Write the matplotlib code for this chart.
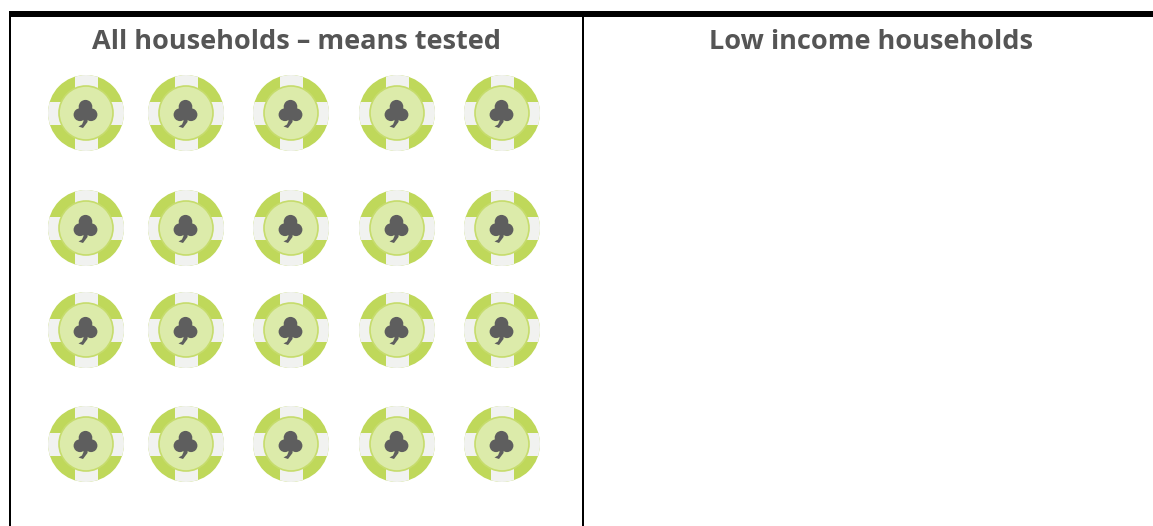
import matplotlib
matplotlib.use("Agg")
import matplotlib.pyplot as plt
from matplotlib.patches import Circle, Rectangle, Polygon

# data
panel_titles = ["All households – means tested", "Low income households"]
chip_counts = [20, 0]

# layout (pixels)
W, H = 1153, 526
COLS = [86, 186, 291, 397, 502]
ROWS = [113, 228, 330, 444]
TITLE_X = [296, 871]
GREEN, TAB, FACE, RIM, INK = "#bfd85a", "#f1f2f0", "#dcebaa", "#c6dc6c", "#5e5e5e"

fig = plt.figure(figsize=(W / 100, H / 100), dpi=100)
ax = fig.add_axes([0, 0, 1, 1])
ax.set_xlim(0, W)
ax.set_ylim(H, 0)
ax.axis("off")


def chip(cx, cy):
    outer = Circle((cx, cy), 38, fc=GREEN, ec="none", zorder=2)
    ax.add_patch(outer)
    for x, y, w, h in [(-11.5, -39, 23, 14), (-11.5, 25, 23, 14),
                       (-39, -11.5, 14, 23), (25, -11.5, 14, 23)]:
        r = Rectangle((cx + x, cy + y), w, h, fc=TAB, ec="none", zorder=3)
        ax.add_patch(r)
        r.set_clip_path(outer)
    ax.add_patch(Circle((cx, cy), 27, fc=FACE, ec=RIM, lw=1.2, zorder=4))
    for dx, dy, rad in [(-0.5, -6.3, 6.8), (-6.0, 1.7, 6.4), (5.0, 1.7, 6.4)]:
        ax.add_patch(Circle((cx + dx, cy + dy), rad, fc=INK, ec="none", zorder=5))
    ax.add_patch(Polygon([(cx - 3, cy + 2), (cx + 2, cy + 2), (cx + 1.5, cy + 9), (cx - 3, cy + 15),
                          (cx - 7.5, cy + 13.5), (cx - 4, cy + 11.5), (cx - 2.5, cy + 8)],
                         closed=True, fc=INK, ec="none", zorder=5))


ordered = [(x, y) for y in ROWS for x in COLS]
for cx, cy in ordered[:chip_counts[0]]:
    chip(cx, cy)

for title, x in zip(panel_titles, TITLE_X):
    ax.text(x, 42, title, ha="center", va="center", color="#555555",
            fontsize=19.5, fontweight="bold", family="Open Sans")

ax.add_patch(Rectangle((9, 11), W - 9, 6, fc="black", ec="none", zorder=6))
ax.add_patch(Rectangle((9, 11), 2, H - 11, fc="black", ec="none", zorder=6))
ax.add_patch(Rectangle((582, 11), 2, H - 11, fc="black", ec="none", zorder=6))

fig.savefig("out.png", dpi=100)
